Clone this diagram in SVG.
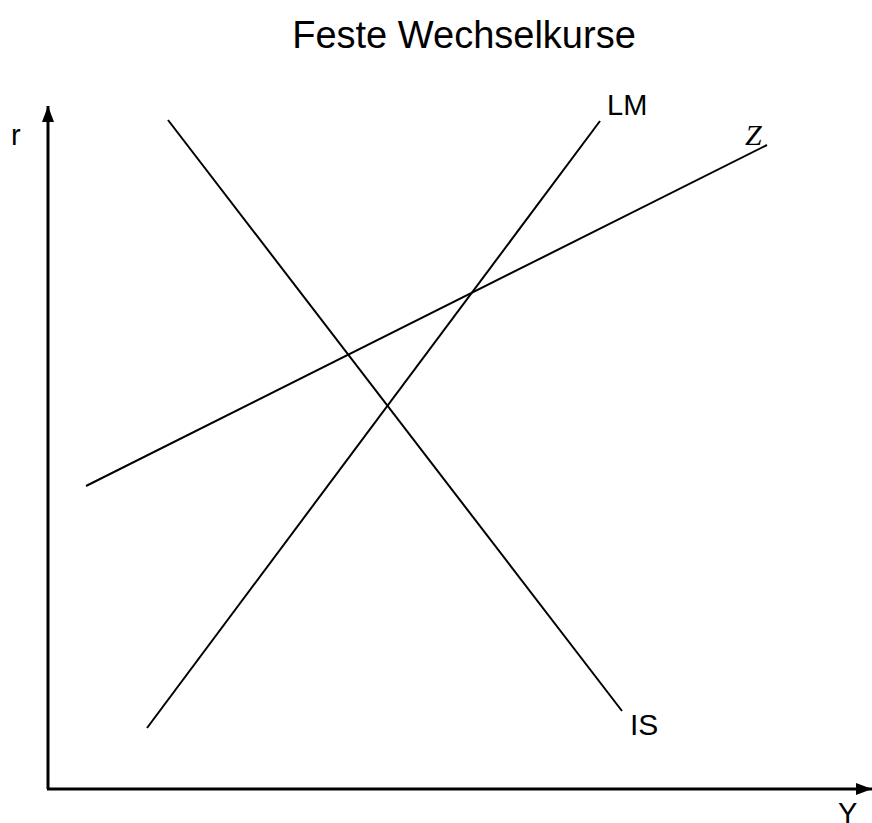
<svg xmlns="http://www.w3.org/2000/svg" width="872" height="823" viewBox="0 0 872 823">
<defs>
<marker id="arr" viewBox="0 0 16 12" refX="16" refY="6" markerWidth="16" markerHeight="12" markerUnits="userSpaceOnUse" orient="auto">
<path d="M0,0 L16,6 L0,12 z" fill="#000"/>
</marker>
<style>
.ax{stroke:#000;stroke-width:3;fill:none}
.ln{stroke:#000;stroke-width:2;fill:none}
.t{font-family:"Liberation Sans","DejaVu Sans",sans-serif;fill:#000}
</style>
</defs>
<rect width="872" height="823" fill="#fff"/>
<text class="t" x="464" y="48" font-size="38" text-anchor="middle">Feste Wechselkurse</text>
<g id="axes">
<line class="ax" x1="48" y1="789" x2="48" y2="106" marker-end="url(#arr)"/>
<line class="ax" x1="47" y1="789" x2="872" y2="789" marker-end="url(#arr)"/>
<text class="t" x="11" y="145" font-size="29">r</text>
<text class="t" x="838" y="823" font-size="29">Y</text>
</g>
<g id="connectors">
<line id="IS" class="ln" x1="168" y1="120" x2="622" y2="711"/>
<line id="LM" class="ln" x1="147" y1="728" x2="600" y2="121"/>
<line id="Z" class="ln" x1="86" y1="486" x2="767" y2="145"/>
</g>
<g id="labels">
<text class="t" x="607" y="115" font-size="29">LM</text>
<text x="745" y="145" font-size="30" font-style="italic" font-family="'Liberation Serif',serif">Z</text>
<text class="t" x="630" y="735" font-size="30">IS</text>
</g>
</svg>
